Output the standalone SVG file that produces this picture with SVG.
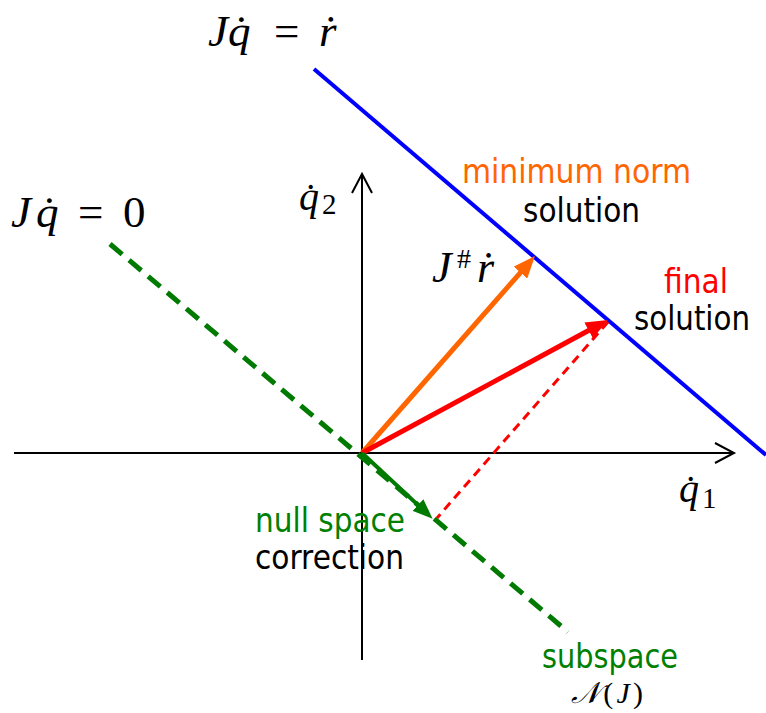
<svg xmlns="http://www.w3.org/2000/svg" width="766" height="713" viewBox="0 0 766 713">
<style>
.math{font-family:"Liberation Serif","DejaVu Serif",serif;font-style:italic;fill:#000}
.up{font-style:normal}
.lbl{font-family:"DejaVu Sans","Liberation Sans",sans-serif;font-size:33px}
.axis{stroke:#000;stroke-width:2;fill:none}
</style>
<defs>
<marker id="hOrange" markerUnits="userSpaceOnUse" markerWidth="22" markerHeight="18" viewBox="0 0 22 18" refX="2" refY="9" orient="auto"><path d="M0,0 L22,9 L0,18 z" fill="#FF6600"/></marker>
<marker id="hRed" markerUnits="userSpaceOnUse" markerWidth="22" markerHeight="18" viewBox="0 0 22 18" refX="2" refY="9" orient="auto"><path d="M0,0 L22,9 L0,18 z" fill="#FF0000"/></marker>
<marker id="hGreen" markerUnits="userSpaceOnUse" markerWidth="20" markerHeight="16" viewBox="0 0 20 16" refX="2" refY="8" orient="auto"><path d="M0,0 L20,8 L0,16 z" fill="#007A00"/></marker>
</defs>
<rect width="766" height="713" fill="#fff"/>
<g id="connectors">
<g id="axes">
<path class="axis" d="M14,453 L733,453 M715,443 L734,453 L715,463"/>
<path class="axis" d="M362,660 L362,175 M352,193 L362,174 L372,193"/>
</g>
<line id="constraint" x1="314" y1="69" x2="766" y2="455" stroke="#0000FF" stroke-width="4"/>
<line id="nullspace" x1="110" y1="244" x2="568" y2="632" stroke="#007A00" stroke-width="5" stroke-dasharray="16 9"/>
<line id="proj" x1="608" y1="322" x2="437" y2="518" stroke="#FF0000" stroke-width="3" stroke-dasharray="9 6"/>
<line id="vMin" x1="362" y1="453" x2="521.8" y2="271.1" stroke="#FF6600" stroke-width="5" marker-end="url(#hOrange)"/>
<line id="vFinal" x1="362" y1="453" x2="590.4" y2="329.5" stroke="#FF0000" stroke-width="5" marker-end="url(#hRed)"/>
<line id="vNull" x1="362" y1="453" x2="419.4" y2="506.4" stroke="#007A00" stroke-width="4" marker-end="url(#hGreen)"/>
</g>
<g id="eqTop"><text class="math" y="46" font-size="45"><tspan x="208">J</tspan><tspan x="228">q̇</tspan><tspan x="274" class="up">=</tspan><tspan x="319">ṙ</tspan></text></g>
<g id="eqNull"><text class="math" y="227" font-size="45"><tspan x="11">J</tspan><tspan x="36">q̇</tspan><tspan x="78" class="up">=</tspan><tspan x="123" class="up">0</tspan></text></g>
<g id="q2"><text class="math" y="210" font-size="40"><tspan x="299">q̇</tspan><tspan x="322" y="214" class="up" font-size="29">2</tspan></text></g>
<g id="q1"><text class="math" y="502" font-size="40"><tspan x="679">q̇</tspan><tspan x="702" y="508" class="up" font-size="29">1</tspan></text></g>
<g id="jr"><text class="math" y="282" font-size="44"><tspan x="432">J</tspan><tspan x="457" y="268" class="up" font-size="28">#</tspan><tspan x="477" y="282">ṙ</tspan></text></g>
<g id="minNorm">
<text class="lbl" x="462" y="183" fill="#FF6600" textLength="229" lengthAdjust="spacingAndGlyphs">minimum norm</text>
<text class="lbl" x="523" y="222" fill="#000" textLength="117" lengthAdjust="spacingAndGlyphs">solution</text>
</g>
<g id="finalSol">
<text class="lbl" x="664" y="293" fill="#FF0000" textLength="64" lengthAdjust="spacingAndGlyphs">final</text>
<text class="lbl" x="634" y="330" fill="#000" textLength="116" lengthAdjust="spacingAndGlyphs">solution</text>
</g>
<g id="nullCorr">
<text class="lbl" x="255" y="532" fill="#008000" textLength="150" lengthAdjust="spacingAndGlyphs">null space</text>
<text class="lbl" x="255" y="569" fill="#000" textLength="149" lengthAdjust="spacingAndGlyphs">correction</text>
</g>
<g id="subspace">
<text class="lbl" x="542" y="668" fill="#008000" textLength="136" lengthAdjust="spacingAndGlyphs">subspace</text>
<text class="math" x="571" y="703" font-size="30" textLength="72" lengthAdjust="spacing"><tspan>𝒩</tspan><tspan class="up">(</tspan><tspan>J</tspan><tspan class="up">)</tspan></text>
</g>
</svg>
